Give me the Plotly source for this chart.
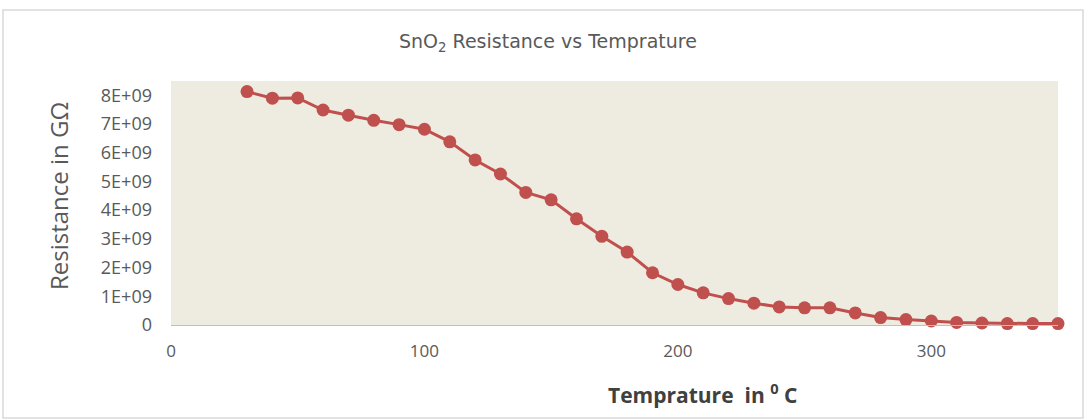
import plotly.graph_objects as go

temperature = [30, 40, 50, 60, 70, 80, 90, 100, 110, 120, 130, 140, 150, 160, 170, 180, 190,
               200, 210, 220, 230, 240, 250, 260, 270, 280, 290, 300, 310, 320, 330, 340, 350]
resistance = [8.13e9, 7.90e9, 7.91e9, 7.49e9, 7.31e9, 7.13e9, 6.98e9, 6.82e9, 6.38e9, 5.75e9,
              5.26e9, 4.62e9, 4.36e9, 3.70e9, 3.09e9, 2.54e9, 1.82e9, 1.41e9, 1.12e9, 0.92e9,
              0.76e9, 0.63e9, 0.60e9, 0.60e9, 0.42e9, 0.26e9, 0.19e9, 0.14e9, 0.09e9, 0.07e9,
              0.05e9, 0.05e9, 0.05e9]
y_tickvals = [0, 1e9, 2e9, 3e9, 4e9, 5e9, 6e9, 7e9, 8e9]
y_ticktext = ["0", "1E+09", "2E+09", "3E+09", "4E+09", "5E+09", "6E+09", "7E+09", "8E+09"]
x_tickvals = [0, 100, 200, 300]

W, H = 1084, 419
L, R, T, B = 171, 26, 81, 94
pw, ph = W - L - R, H - T - B

def px(x):
    return (x - L) / pw

def py(y):
    return (H - B - y) / ph

fig = go.Figure()
fig.add_trace(go.Scatter(
    x=temperature, y=resistance, mode="lines+markers",
    line=dict(color="#C0504D", width=3),
    marker=dict(color="#C0504D", size=13),
    cliponaxis=False,
))

fig.update_layout(
    width=W, height=H,
    margin=dict(l=L, r=R, t=T, b=B),
    paper_bgcolor="white",
    plot_bgcolor="#EEEBE1",
    showlegend=False,
    font=dict(family="Open Sans", color="#595959"),
    xaxis=dict(range=[0, 350], tickvals=x_tickvals, showgrid=False, zeroline=False,
               showline=True, linecolor="#BFBFBF", linewidth=1, ticks="",
               ticklabelstandoff=11,
               tickfont=dict(size=17, color="#595959"), fixedrange=True),
    yaxis=dict(range=[0, 8.5e9], tickvals=y_tickvals, ticktext=y_ticktext,
               showgrid=False, zeroline=False, showline=False, ticks="",
               ticklabelstandoff=18,
               tickfont=dict(size=18, color="#595959"), fixedrange=True),
    shapes=[dict(type="rect", xref="paper", yref="paper",
                 x0=px(3), x1=px(1083), y0=py(418), y1=py(10),
                 line=dict(color="#D9D9D9", width=1.5), layer="below")],
    annotations=[
        dict(text="SnO<sub>2</sub> Resistance vs Temprature", xref="paper", yref="paper",
             x=px(548), y=py(43), showarrow=False, xanchor="center", yanchor="middle",
             font=dict(family="DejaVu Sans", size=19, color="#595959")),
        dict(text="<b>Temprature  in <sup>0</sup> C</b>", xref="paper", yref="paper",
             x=px(702), y=py(393), showarrow=False, xanchor="center", yanchor="middle",
             font=dict(size=21, color="#404040")),
        dict(text="Resistance in GΩ", xref="paper", yref="paper",
             x=px(58), y=py(196), showarrow=False, xanchor="center", yanchor="middle",
             textangle=-90, font=dict(size=24, color="#595959")),
    ],
)

fig.write_html("out.html", config={"displayModeBar": False},
               post_script="document.body.style.margin='0px';document.body.style.padding='0px';")
